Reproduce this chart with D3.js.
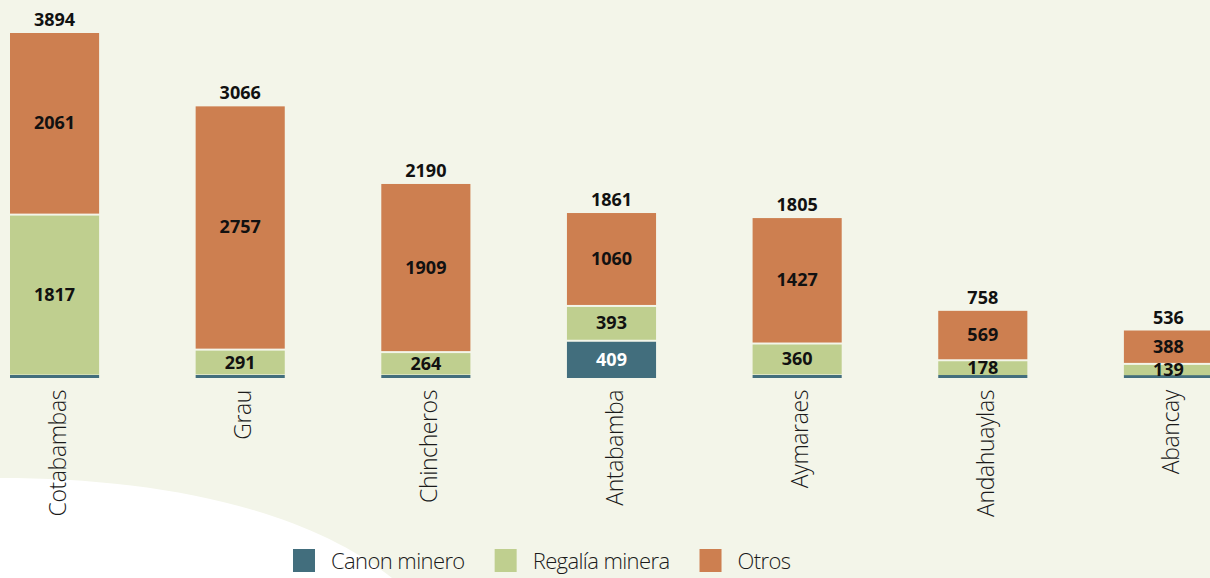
<!DOCTYPE html>
<html>
<head>
<meta charset="utf-8">
<script src="https://cdn.jsdelivr.net/npm/d3@7"></script>
<style>
  body { margin: 0; background: #ffffff; }
  svg { display: block; }
</style>
</head>
<body>
<div id="chart"></div>
<script>
// data
const provincias = ['Cotabambas', 'Grau', 'Chincheros', 'Antabamba', 'Aymaraes', 'Andahuaylas', 'Abancay'];
const canonMinero = [16, 18, 17, 409, 18, 11, 9];
const regaliaMinera = [1817, 291, 264, 393, 360, 178, 139];
const otros = [2061, 2757, 1909, 1060, 1427, 569, 388];
// totals as printed above the bars (rounded in the source)
const totalLabels = [3894, 3066, 2190, 1861, 1805, 758, 536];

const seriesNames = ['Canon minero', 'Regalía minera', 'Otros'];
const seriesColors = ['#426e7d', '#bfcf8f', '#cd7f50'];

const width = 1210;
const height = 578;
const baseline = 378;
const gap = 2;
const minBottom = 3; // keep the thin canon strip visible

const svg = d3
    .select('#chart')
    .append('svg')
    .attr('width', width)
    .attr('height', height);

// background + white swoosh in the lower-left corner
svg.append('rect')
    .attr('width', width)
    .attr('height', height)
    .attr('fill', '#f3f5e9');
svg.append('path')
    .attr('d', 'M0,478 C150,478 300,505 392,578 L0,578 Z')
    .attr('fill', '#ffffff');

// build rows for the stack
const rows = provincias.map((p, i) => ({
    provincia: p,
    'Canon minero': canonMinero[i],
    'Regalía minera': regaliaMinera[i],
    'Otros': otros[i]
}));
const stack = d3.stack().keys(seriesNames)(rows);
const totals = rows.map(r => seriesNames.reduce((s, k) => s + r[k], 0));

const xScale = d3
    .scaleBand()
    .domain(provincias)
    .range([10, 1213])
    .paddingInner(0.52)
    .paddingOuter(0);

const yScale = d3
    .scaleLinear()
    .domain([0, d3.max(totals)])
    .range([baseline, 33]);

const color = d3.scaleOrdinal().domain(seriesNames).range(seriesColors);

// stacked bars
const layers = svg
    .selectAll('g.layer')
    .data(stack)
    .enter()
    .append('g')
    .attr('class', 'layer')
    .attr('fill', d => color(d.key));

layers
    .selectAll('rect')
    .data(d => d)
    .enter()
    .append('rect')
    .attr('x', d => xScale(d.data.provincia))
    .attr('width', xScale.bandwidth())
    .attr('y', d => {
        if (d[0] === 0) return Math.min(yScale(d[1]), baseline - minBottom);
        return yScale(d[1]);
    })
    .attr('height', d => {
        if (d[0] === 0) return Math.max(yScale(d[0]) - yScale(d[1]), minBottom);
        return Math.max(0, yScale(d[0]) - yScale(d[1]) - gap);
    });

// labels inside segments
const fontNum = '"Open Sans", sans-serif';
layers
    .selectAll('text')
    .data(d => d.map(v => ({ key: d.key, v: v })))
    .enter()
    .filter(d => d.key !== 'Canon minero' || (d.v[1] - d.v[0]) > 100)
    .append('text')
    .attr('x', d => xScale(d.v.data.provincia) + xScale.bandwidth() / 2)
    .attr('y', d => {
        const top = yScale(d.v[1]);
        const bottom = yScale(d.v[0]) - (d.v[0] > 0 ? gap : 0);
        return (top + bottom) / 2 - 1;
    })
    .attr('text-anchor', 'middle')
    .attr('dominant-baseline', 'central')
    .attr('fill', d => d.key === 'Canon minero' ? '#ffffff' : '#111111')
    .style('font-family', fontNum)
    .style('font-weight', 700)
    .style('font-size', '18px')
    .text(d => d.v[1] - d.v[0]);

// totals above bars
svg
    .selectAll('text.total')
    .data(rows)
    .enter()
    .append('text')
    .attr('class', 'total')
    .attr('x', d => xScale(d.provincia) + xScale.bandwidth() / 2)
    .attr('y', (d, i) => yScale(totals[i]) - 7)
    .attr('text-anchor', 'middle')
    .attr('fill', '#111111')
    .style('font-family', fontNum)
    .style('font-weight', 700)
    .style('font-size', '18px')
    .text((d, i) => totalLabels[i]);

// category labels, rotated
svg
    .selectAll('text.cat')
    .data(provincias)
    .enter()
    .append('text')
    .attr('class', 'cat')
    .attr('transform', d => `translate(${xScale(d) + xScale.bandwidth() / 2 + 11}, 390) rotate(-90)`)
    .attr('text-anchor', 'end')
    .attr('fill', '#1a1a1a')
    .style('font-family', '"Open Sans", sans-serif')
    .style('font-weight', 300)
    .style('font-size', '23px')
    .style('letter-spacing', '-0.4px')
    .text(d => d);

// legend
const legend = svg.append('g').attr('transform', 'translate(293, 549)');
let lx = 0;
seriesNames.forEach((name, i) => {
    const item = legend.append('g').attr('transform', `translate(${lx}, 0)`);
    item.append('rect')
        .attr('width', 22)
        .attr('height', 23)
        .attr('fill', color(name));
    const t = item.append('text')
        .attr('x', 38)
        .attr('y', 20)
        .attr('fill', '#1a1a1a')
        .style('font-family', '"Open Sans", sans-serif')
        .style('font-weight', 300)
        .style('font-size', '22px')
        .style('letter-spacing', '-0.6px')
        .text(name);
    lx += 38 + t.node().getComputedTextLength() + 30;
});
</script>
</body>
</html>
